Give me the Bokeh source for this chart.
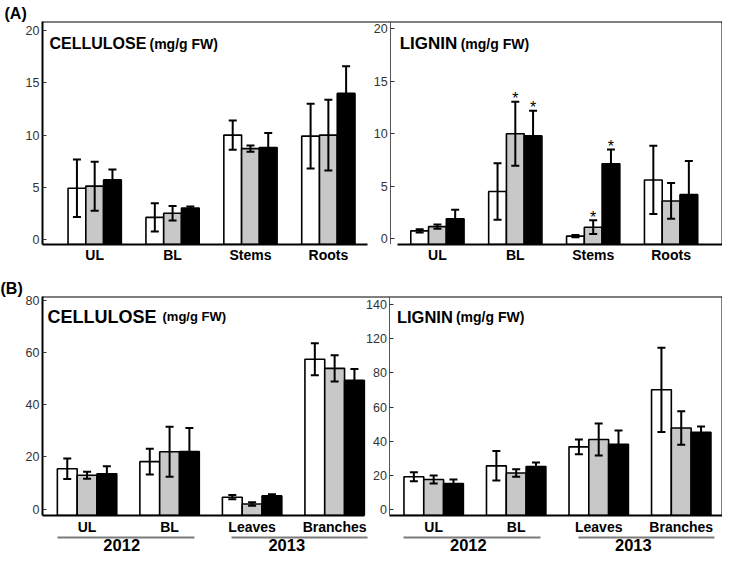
from bokeh.plotting import figure
from bokeh.models import (Range1d, LinearAxis, FixedTicker, Label, Whisker,
                          TeeHead, ColumnDataSource)
from bokeh.layouts import column
from bokeh.embed import file_html
from bokeh.resources import INLINE
from bokeh.core.properties import value

# ---------------- data ----------------
# (A)
A_CATEGORIES = ["UL", "BL", "Stems", "Roots"]
A_TICKS = [0, 5, 10, 15, 20]
A_CELL_WHITE = [4.9, 2.1, 10.0, 9.9]
A_CELL_WHITE_ERR = [2.75, 1.35, 1.4, 3.1]
A_CELL_GREY = [5.1, 2.5, 8.7, 10.0]
A_CELL_GREY_ERR = [2.35, 0.7, 0.3, 3.4]
A_CELL_BLACK = [5.7, 3.0, 8.8, 14.0]
A_CELL_BLACK_ERR = [1.0, 0.15, 1.4, 2.6]
A_LIG_WHITE = [0.75, 4.5, 0.25, 5.6]
A_LIG_WHITE_ERR = [0.15, 2.7, 0.1, 3.25]
A_LIG_GREY = [1.15, 10.0, 1.1, 3.6]
A_LIG_GREY_ERR = [0.2, 3.05, 0.65, 1.7]
A_LIG_BLACK = [1.9, 9.8, 7.15, 4.2]
A_LIG_BLACK_ERR = [0.85, 2.4, 1.35, 3.2]
A_LIG_SIG = [[False, False, False, False],   # white
             [False, True, True, False],     # grey
             [False, True, True, False]]     # black

# (B)
B_CATEGORIES = ["UL", "BL", "Leaves", "Branches"]
B_YEARS = ["2012", "2013"]
B_CELL_TICKS = [0, 20, 40, 60, 80]
B_LIG_TICKS = [0, 20, 40, 60, 80, 100, 120]
B_LIG_TICK_LABELS = ["0", "20", "40", "60", "80", "120", "140"]
B_CELL_WHITE = [15.5, 18.2, 4.6, 57.4]
B_CELL_WHITE_ERR = [3.9, 4.9, 0.8, 6.1]
B_CELL_GREY = [13.0, 22.0, 2.0, 53.9]
B_CELL_GREY_ERR = [1.3, 9.6, 0.7, 5.0]
B_CELL_BLACK = [13.6, 22.1, 5.1, 49.3]
B_CELL_BLACK_ERR = [2.8, 9.0, 0.6, 4.4]
B_LIG_WHITE = [19.3, 25.7, 36.8, 70.1]
B_LIG_WHITE_ERR = [2.6, 8.6, 4.3, 24.6]
B_LIG_GREY = [17.7, 21.5, 41.1, 47.8]
B_LIG_GREY_ERR = [2.3, 2.2, 9.4, 9.8]
B_LIG_BLACK = [15.4, 25.3, 38.3, 45.3]
B_LIG_BLACK_ERR = [2.3, 2.3, 8.0, 3.4]

# ---------------- styling / layout ----------------
FONT = "Liberation Sans"
FILLS = ["#ffffff", "#c8c8c8", "#000000"]
W = 722


def bars(p, centers, means_list, errs_list, bw, base, rname, sig=None):
    for k, (means, errs) in enumerate(zip(means_list, errs_list)):
        xs = [c + (k - 1) * bw for c in centers]
        src = ColumnDataSource(dict(
            x=xs, top=means,
            upper=[m + e for m, e in zip(means, errs)],
            lower=[m - e for m, e in zip(means, errs)]))
        p.vbar(x="x", top="top", bottom=base, width=bw, source=src,
               fill_color=FILLS[k], line_color="black", line_width=1.6,
               y_range_name=rname)
        wh = Whisker(source=src, base="x", upper="upper", lower="lower",
                     dimension="height", line_color="black", line_width=2,
                     upper_head=TeeHead(size=8, line_width=2, line_color="black"),
                     lower_head=TeeHead(size=8, line_width=2, line_color="black"),
                     level="annotation", y_range_name=rname)
        p.add_layout(wh)
        if sig is not None:
            sx = [x for x, s in zip(xs, sig[k]) if s]
            sy = [u for u, s in zip(src.data["upper"], sig[k]) if s]
            if sx:
                p.text(x=sx, y=sy, text=["*"] * len(sx), text_font=value(FONT),
                       text_font_size="16px", text_align="center",
                       text_baseline="alphabetic", text_color="black",
                       y_offset=-3, y_range_name=rname)


def style_y(ax, ticks, labels=None, main=True):
    ax.ticker = FixedTicker(ticks=ticks)
    if labels is not None:
        ax.major_label_overrides = dict(zip(ticks, labels))
    ax.major_tick_in = 4
    ax.major_tick_out = 0
    ax.minor_tick_line_color = None
    ax.major_tick_line_color = "#333333"
    ax.major_label_standoff = 3
    ax.major_label_text_font = FONT
    ax.major_label_text_font_size = "12.5px"
    ax.major_label_text_color = "#333333"
    if main:
        ax.axis_line_width = 2
        ax.axis_line_color = "black"
    else:
        ax.axis_line_width = 1
        ax.axis_line_color = "#555555"


def style_x(ax, ticks, labels, size="14px", standoff=2):
    ax.ticker = FixedTicker(ticks=ticks)
    ax.major_label_overrides = dict(zip(ticks, labels))
    ax.major_tick_in = 0
    ax.major_tick_out = 0
    ax.major_tick_line_color = None
    ax.minor_tick_line_color = None
    ax.major_label_standoff = standoff
    ax.major_label_text_font = FONT
    ax.major_label_text_font_size = size
    ax.major_label_text_font_style = "bold"
    ax.major_label_text_color = "black"
    ax.axis_line_color = None


def rule(bounds=None, loc=None, color="black", width=2, pad=0):
    """An axis that only draws its line (frame edges, underlines, spacing)."""
    ax = LinearAxis(ticker=FixedTicker(ticks=[]), axis_line_color=color,
                    axis_line_width=width, major_tick_in=0, major_tick_out=pad,
                    major_tick_line_color=None, minor_tick_line_color=None)
    if loc is not None:
        ax.fixed_location = loc
    if bounds is not None:
        ax.bounds = bounds
    return ax


def make_fig(height, xr, yr, rr, left, top, bottom, tag, tag_off):
    p = figure(width=W, height=height, x_range=Range1d(*xr), y_range=Range1d(*yr),
               output_backend="svg", toolbar_location=None,
               min_border_left=left, min_border_right=0,
               min_border_top=top, min_border_bottom=bottom)
    p.extra_y_ranges = {"r": Range1d(*rr)}
    p.outline_line_color = None
    p.xgrid.visible = False
    p.ygrid.visible = False
    p.background_fill_color = "white"
    p.border_fill_color = "white"
    p.title.text = tag
    p.title.align = "left"
    p.title.offset = tag_off
    p.title.standoff = 0
    p.title.text_font = FONT
    p.title.text_font_size = "16px"
    p.title.text_font_style = "bold"
    p.title.text_color = "black"
    return p


def panel_title(p, x, y, rname, parts, yoff):
    for text, size, xoff in parts:
        p.add_layout(Label(x=x, y=y, y_range_name=rname, x_offset=xoff, y_offset=yoff,
                           text=text, text_font=FONT, text_font_size=size,
                           text_font_style="bold", text_color="black",
                           text_baseline="alphabetic"))


# ================= (A) =================
AX = (-6.7, 80.6)
AY = (-0.5, 20.9)
AR = (-0.55, 20.7)
A_LEFT = [0, 10, 20, 30]
A_RIGHT = [44, 54, 64, 74]
A_MID = 38
A_GAP = 35.0
A_BW = 2.28

pA = make_fig(268, AX, AY, AR, left=38, top=21, bottom=24, tag="(A)", tag_off=-38)
style_y(pA.yaxis[0], A_TICKS)
main_a = pA.xaxis[0]
style_x(main_a, A_LEFT + A_RIGHT, A_CATEGORIES + A_CATEGORIES, standoff=2)
pA.below = [rule(bounds=(AX[0], A_GAP)), rule(bounds=(A_MID + 0.9, AX[1])), main_a]

axr = LinearAxis(y_range_name="r", fixed_location=A_MID)
style_y(axr, A_TICKS, main=False)
pA.add_layout(axr, "left")
pA.add_layout(rule(loc=AY[1]), "above")
pA.add_layout(rule(loc=AX[1]), "right")

bars(pA, A_LEFT, [A_CELL_WHITE, A_CELL_GREY, A_CELL_BLACK],
     [A_CELL_WHITE_ERR, A_CELL_GREY_ERR, A_CELL_BLACK_ERR], A_BW, AY[0], "default")
bars(pA, A_RIGHT, [A_LIG_WHITE, A_LIG_GREY, A_LIG_BLACK],
     [A_LIG_WHITE_ERR, A_LIG_GREY_ERR, A_LIG_BLACK_ERR], A_BW, AR[0], "r", sig=A_LIG_SIG)

panel_title(pA, AX[0], AY[1], "default",
            [("CELLULOSE", "16px", 7), ("(mg/g FW)", "14px", 107)], -22)
panel_title(pA, A_MID, AR[1], "r",
            [("LIGNIN", "17px", 9), ("(mg/g FW)", "14px", 70)], -22)

# ================= (B) =================
BX = (-5.4, 77.0)
BY = (-2.4, 81.4)
BR = (-3.3, 124.6)
B_LEFT = [0, 10, 20, 30]
B_RIGHT = [42, 52, 62, 72]
B_MID = 36.7
B_GAP = 33.6
B_BW = 2.4
B_YEAR_SHIFT = 4.2
B_UNDER_PAD = [(3.6, 3.0), (2.5, 4.0)]

pB = make_fig(285, BX, BY, BR, left=42, top=28, bottom=38, tag="(B)", tag_off=-42)
style_y(pB.yaxis[0], B_CELL_TICKS)
main_b = pB.xaxis[0]
style_x(main_b, B_LEFT + B_RIGHT, B_CATEGORIES + B_CATEGORIES, standoff=3)

unders = []
year_ticks = []
year_labels = []
for centers in (B_LEFT, B_RIGHT):
    for g in range(2):
        a = centers[2 * g] - B_UNDER_PAD[g][0]
        b = centers[2 * g + 1] + B_UNDER_PAD[g][1]
        unders.append(rule(bounds=(a, b), color="#7a7a7a", width=2))
        year_ticks.append(centers[2 * g] + B_YEAR_SHIFT)
        year_labels.append(B_YEARS[g])
yax = LinearAxis()
style_x(yax, year_ticks, year_labels, size="16.5px", standoff=1)
spacer = rule(color=None, pad=5)
pB.below = ([rule(bounds=(BX[0], B_GAP)), rule(bounds=(B_MID, BX[1])), main_b, spacer]
            + unders + [yax])

bxr = LinearAxis(y_range_name="r", fixed_location=B_MID)
style_y(bxr, B_LIG_TICKS, B_LIG_TICK_LABELS, main=False)
pB.add_layout(bxr, "left")
pB.add_layout(rule(loc=BY[1]), "above")
pB.add_layout(rule(loc=BX[1]), "right")

bars(pB, B_LEFT, [B_CELL_WHITE, B_CELL_GREY, B_CELL_BLACK],
     [B_CELL_WHITE_ERR, B_CELL_GREY_ERR, B_CELL_BLACK_ERR], B_BW, BY[0], "default")
bars(pB, B_RIGHT, [B_LIG_WHITE, B_LIG_GREY, B_LIG_BLACK],
     [B_LIG_WHITE_ERR, B_LIG_GREY_ERR, B_LIG_BLACK_ERR], B_BW, BR[0], "r")

panel_title(pB, BX[0], BY[1], "default",
            [("CELLULOSE", "18px", 5), ("(mg/g FW)", "13px", 120)], -20)
panel_title(pB, B_MID, BR[1], "r",
            [("LIGNIN", "16.5px", 7), ("(mg/g FW)", "14px", 66)], -20)

layout = column(pA, pB, spacing=0)
open("out.html", "w").write(file_html(layout, INLINE))
